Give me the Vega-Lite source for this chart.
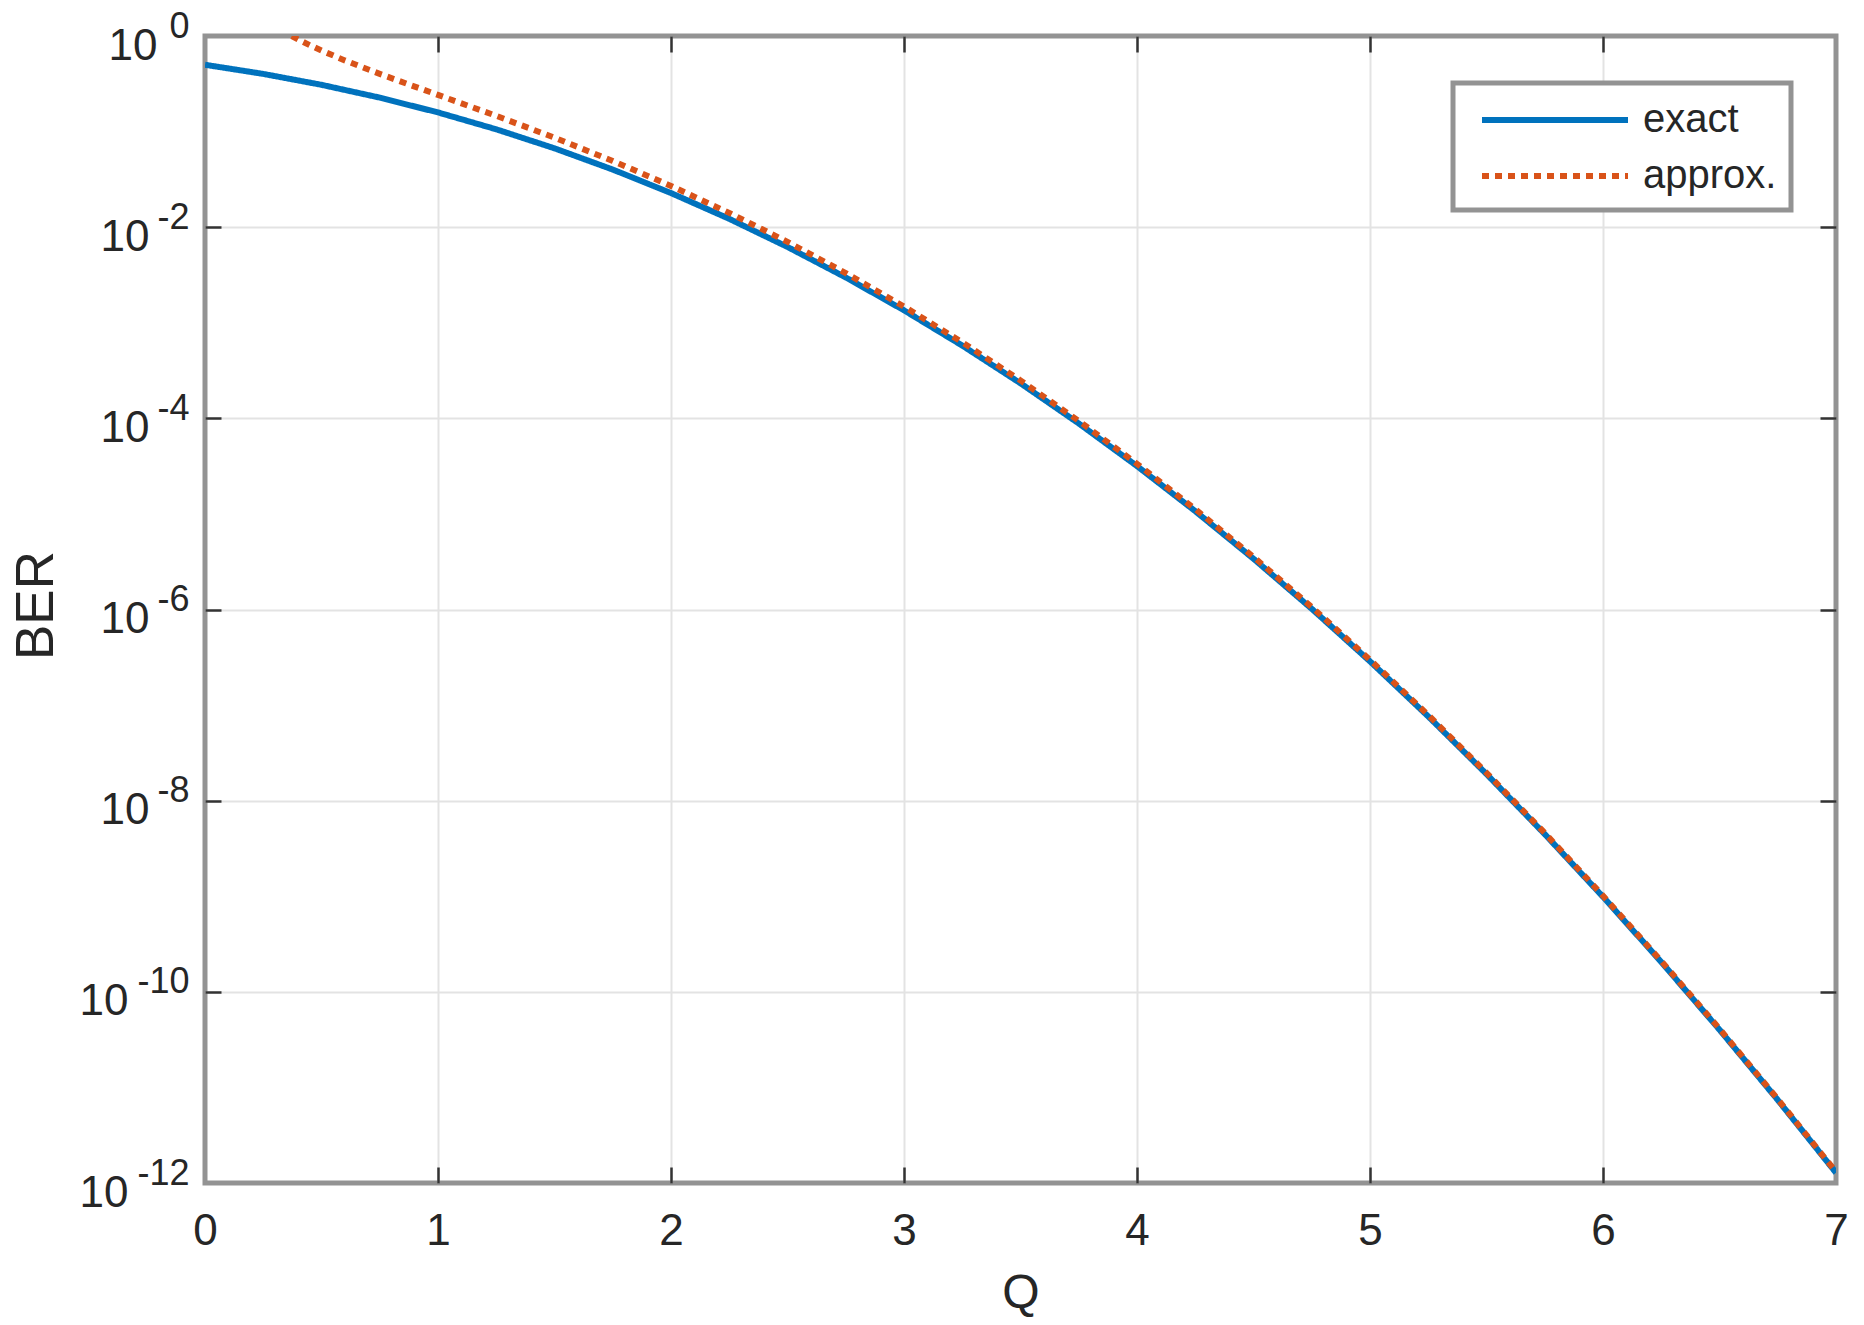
{
  "$schema": "https://vega.github.io/schema/vega-lite/v6.json",
  "width": 1631,
  "height": 1147,
  "autosize": "none",
  "padding": {"left": 205, "top": 36, "right": 28, "bottom": 142},
  "background": "white",
  "config": {
    "view": {"stroke": "#939393", "strokeWidth": 5},
    "font": "Liberation Sans"
  },
  "data": {
    "values": [
      {"Q": 0, "BER": 0.5, "series": "exact"},
      {"Q": 0.25, "BER": 0.401294, "series": "exact"},
      {"Q": 0.5, "BER": 0.308538, "series": "exact"},
      {"Q": 0.75, "BER": 0.226627, "series": "exact"},
      {"Q": 1, "BER": 0.158655, "series": "exact"},
      {"Q": 1.25, "BER": 0.10565, "series": "exact"},
      {"Q": 1.5, "BER": 0.0668072, "series": "exact"},
      {"Q": 1.75, "BER": 0.0400592, "series": "exact"},
      {"Q": 2, "BER": 0.0227501, "series": "exact"},
      {"Q": 2.25, "BER": 0.0122245, "series": "exact"},
      {"Q": 2.5, "BER": 0.00620967, "series": "exact"},
      {"Q": 2.75, "BER": 0.00297976, "series": "exact"},
      {"Q": 3, "BER": 0.0013499, "series": "exact"},
      {"Q": 3.25, "BER": 0.000577025, "series": "exact"},
      {"Q": 3.5, "BER": 0.000232629, "series": "exact"},
      {"Q": 3.75, "BER": 8.84173e-5, "series": "exact"},
      {"Q": 4, "BER": 3.16712e-5, "series": "exact"},
      {"Q": 4.25, "BER": 1.06885e-5, "series": "exact"},
      {"Q": 4.5, "BER": 3.39767e-6, "series": "exact"},
      {"Q": 4.75, "BER": 1.01708e-6, "series": "exact"},
      {"Q": 5, "BER": 2.86652e-7, "series": "exact"},
      {"Q": 5.25, "BER": 7.60496e-8, "series": "exact"},
      {"Q": 5.5, "BER": 1.89896e-8, "series": "exact"},
      {"Q": 5.75, "BER": 4.46217e-9, "series": "exact"},
      {"Q": 6, "BER": 9.86588e-10, "series": "exact"},
      {"Q": 6.25, "BER": 2.05226e-10, "series": "exact"},
      {"Q": 6.5, "BER": 4.016e-11, "series": "exact"},
      {"Q": 6.75, "BER": 7.39225e-12, "series": "exact"},
      {"Q": 7, "BER": 1.27981e-12, "series": "exact"},
      {"Q": 0.3725, "BER": 1.0, "series": "approx."},
      {"Q": 0.4, "BER": 0.9207, "series": "approx."},
      {"Q": 0.45, "BER": 0.80118, "series": "approx."},
      {"Q": 0.5, "BER": 0.70413, "series": "approx."},
      {"Q": 0.6, "BER": 0.55538, "series": "approx."},
      {"Q": 0.75, "BER": 0.40152, "series": "approx."},
      {"Q": 0.875, "BER": 0.31092, "series": "approx."},
      {"Q": 1, "BER": 0.24197, "series": "approx."},
      {"Q": 1.25, "BER": 0.14612, "series": "approx."},
      {"Q": 1.5, "BER": 0.086347, "series": "approx."},
      {"Q": 1.75, "BER": 0.049301, "series": "approx."},
      {"Q": 2, "BER": 0.026995, "series": "approx."},
      {"Q": 2.25, "BER": 0.014107, "series": "approx."},
      {"Q": 2.5, "BER": 0.0070112, "series": "approx."},
      {"Q": 2.75, "BER": 0.0033068, "series": "approx."},
      {"Q": 3, "BER": 0.0014773, "series": "approx."},
      {"Q": 3.25, "BER": 0.00062431, "series": "approx."},
      {"Q": 3.5, "BER": 0.00024934, "series": "approx."},
      {"Q": 3.75, "BER": 9.4027e-5, "series": "approx."},
      {"Q": 4, "BER": 3.3458e-5, "series": "approx."},
      {"Q": 4.25, "BER": 1.1228e-5, "series": "approx."},
      {"Q": 4.5, "BER": 3.552e-6, "series": "approx."},
      {"Q": 4.75, "BER": 1.0588e-6, "series": "approx."},
      {"Q": 5, "BER": 2.9734e-7, "series": "approx."},
      {"Q": 5.25, "BER": 7.8629e-8, "series": "approx."},
      {"Q": 5.5, "BER": 1.958e-8, "series": "approx."},
      {"Q": 5.75, "BER": 4.5899e-9, "series": "approx."},
      {"Q": 6, "BER": 1.0127e-9, "series": "approx."},
      {"Q": 6.25, "BER": 2.1026e-10, "series": "approx."},
      {"Q": 6.5, "BER": 4.1071e-11, "series": "approx."},
      {"Q": 6.75, "BER": 7.547e-12, "series": "approx."},
      {"Q": 7, "BER": 1.305e-12, "series": "approx."}
    ]
  },
  "layer": [
    {
      "mark": {"type": "line", "strokeOpacity": 0},
      "encoding": {
        "x": {"field": "Q", "type": "quantitative",
          "axis": {"orient": "bottom", "values": [1, 2, 3, 4, 5, 6], "labels": false, "domain": false, "title": null,
            "grid": true, "gridColor": "#e3e3e3", "gridWidth": 2,
            "ticks": true, "tickSize": -16, "tickColor": "#333333", "tickWidth": 2.5}},
        "y": {"field": "BER", "type": "quantitative",
          "axis": {"orient": "left", "values": [1e-10, 1e-8, 1e-6, 1e-4, 1e-2], "labels": false, "domain": false, "title": null,
            "grid": true, "gridColor": "#e3e3e3", "gridWidth": 2,
            "ticks": true, "tickSize": -16, "tickColor": "#333333", "tickWidth": 2.5}}
      }
    },
    {
      "mark": {"type": "line", "strokeOpacity": 0},
      "encoding": {
        "x": {"field": "Q", "type": "quantitative",
          "axis": {"orient": "top", "values": [1, 2, 3, 4, 5, 6], "labels": false, "domain": false, "title": null, "grid": false,
            "ticks": true, "tickSize": -16, "tickColor": "#333333", "tickWidth": 2.5}},
        "y": {"field": "BER", "type": "quantitative",
          "axis": {"orient": "right", "values": [1e-10, 1e-8, 1e-6, 1e-4, 1e-2], "labels": false, "domain": false, "title": null, "grid": false,
            "ticks": true, "tickSize": -16, "tickColor": "#333333", "tickWidth": 2.5}}
      }
    },
    {
      "mark": {"type": "line", "strokeOpacity": 0},
      "encoding": {
        "x": {"field": "Q", "type": "quantitative", "axis": null},
        "y": {"field": "BER", "type": "quantitative",
          "axis": {"orient": "left", "values": [1e-12, 1e-10, 1e-8, 1e-6, 1e-4, 1e-2, 1],
            "labelExpr": "'' + round(log(datum.value) / LN10)",
            "labelFontSize": 36, "labelColor": "#262626", "labelFont": "Liberation Sans", "labelAlign": "right",
            "labelPadding": 16, "labelOffset": -10, "labelFlush": false, "labelOverlap": false,
            "ticks": false, "grid": false, "domain": false, "title": null}}
      }
    },
    {
      "mark": {"type": "line", "strokeOpacity": 0},
      "encoding": {
        "x": {"field": "Q", "type": "quantitative", "axis": null},
        "y": {"field": "BER", "type": "quantitative",
          "axis": {"orient": "left", "values": [1e-2, 1e-4, 1e-6, 1e-8],
            "labelExpr": "'10'",
            "labelFontSize": 44, "labelColor": "#262626", "labelFont": "Liberation Sans", "labelAlign": "right",
            "labelPadding": 56, "labelOffset": 10, "labelFlush": false, "labelOverlap": false,
            "ticks": false, "grid": false, "domain": false, "title": null}}
      }
    },
    {
      "mark": {"type": "line", "strokeOpacity": 0},
      "encoding": {
        "x": {"field": "Q", "type": "quantitative", "axis": null},
        "y": {"field": "BER", "type": "quantitative",
          "axis": {"orient": "left", "values": [1e-12, 1e-10],
            "labelExpr": "'10'",
            "labelFontSize": 44, "labelColor": "#262626", "labelFont": "Liberation Sans", "labelAlign": "right",
            "labelPadding": 77, "labelOffset": 10, "labelFlush": false, "labelOverlap": false,
            "ticks": false, "grid": false, "domain": false, "title": null}}
      }
    },
    {
      "mark": {"type": "line", "strokeWidth": 6, "clip": true, "strokeCap": "butt"},
      "encoding": {
        "x": {"field": "Q", "type": "quantitative",
          "scale": {"domain": [0, 7], "nice": false, "zero": false},
          "axis": {"orient": "bottom", "values": [0, 1, 2, 3, 4, 5, 6, 7], "format": "d",
            "domain": false, "grid": false, "ticks": false,
            "labelFontSize": 44, "labelColor": "#262626", "labelFont": "Liberation Sans", "labelPadding": 26, "labelFlush": false,
            "title": "Q", "titleFontSize": 48, "titleFontWeight": "normal", "titleColor": "#262626", "titleFont": "Liberation Sans",
            "titleX": 815.5, "titleY": 124, "titleBaseline": "alphabetic", "titleAlign": "center"}},
        "y": {"field": "BER", "type": "quantitative",
          "scale": {"type": "log", "domain": [1e-12, 1], "nice": false},
          "axis": {"orient": "left", "values": [1],
            "labelExpr": "'10'",
            "labelFontSize": 44, "labelColor": "#262626", "labelFont": "Liberation Sans", "labelAlign": "right",
            "labelPadding": 48, "labelOffset": 10, "labelFlush": false, "labelOverlap": false,
            "domain": false, "grid": false, "ticks": false,
            "title": "BER", "titleFontSize": 53, "titleFontWeight": "normal", "titleColor": "#262626", "titleFont": "Liberation Sans",
            "titleX": -153, "titleY": 569, "titleBaseline": "alphabetic", "titleAlign": "center", "titleAngle": -90}},
        "color": {"field": "series", "type": "nominal",
          "scale": {"domain": ["exact", "approx."], "range": ["#0072BD", "#D95319"]},
          "legend": {"title": null, "orient": "none", "legendX": 1248, "legendY": 47,
            "symbolType": "M-1,0H6.3", "symbolSize": 1600, "symbolStrokeWidth": 6,
            "labelFontSize": 40, "labelFont": "Liberation Sans", "labelColor": "#262626", "labelOffset": 118, "labelLimit": 400,
            "padding": 14, "symbolOffset": 12, "rowPadding": 13,
            "strokeColor": "#939393", "fillColor": "white",
            "encode": {"legend": {"update": {"strokeWidth": {"value": 5}}}}}},
        "strokeDash": {"field": "series", "type": "nominal",
          "scale": {"domain": ["exact", "approx."], "range": [[1, 0], [7, 6]]}}
      }
    }
  ],
  "resolve": {"axis": {"x": "independent", "y": "independent"}}
}
